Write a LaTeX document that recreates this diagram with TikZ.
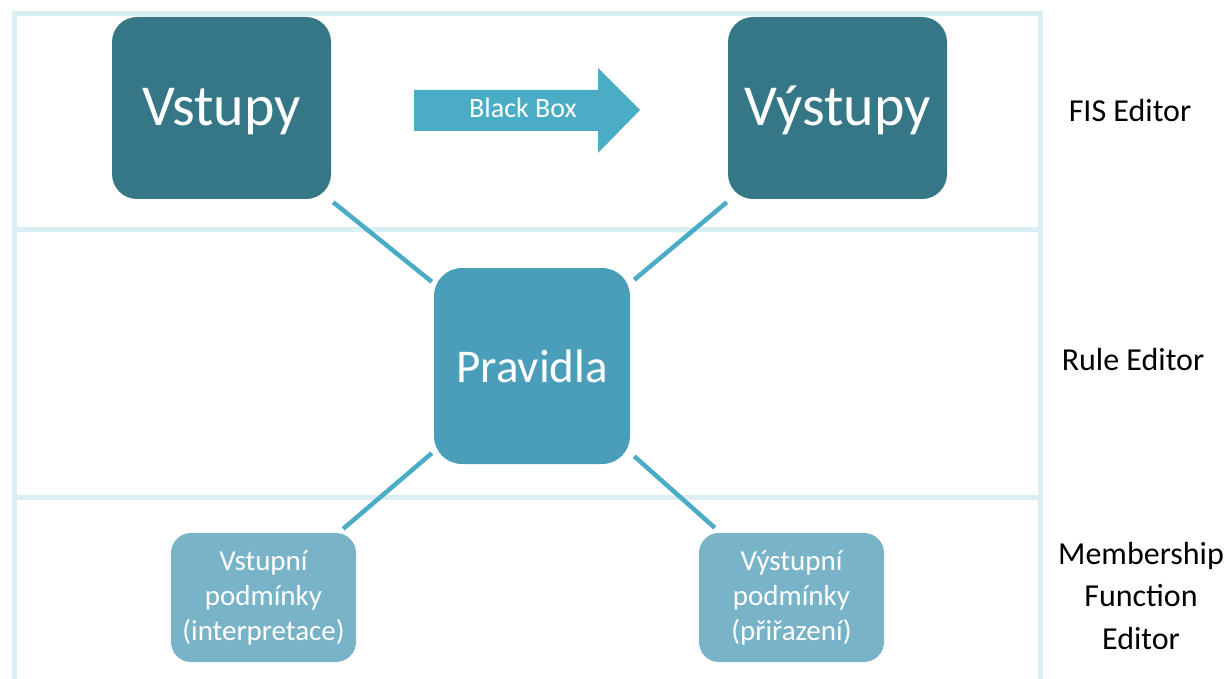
\documentclass[tikz,border=0pt]{standalone}
\usepackage{fontspec}
\setmainfont{Carlito}
\usetikzlibrary{calc}
\definecolor{framecol}{HTML}{DAEEF3}
\definecolor{darkteal}{HTML}{367787}
\definecolor{midteal}{HTML}{4A9EB9}
\definecolor{lightteal}{HTML}{78B3C8}
\definecolor{arrowcol}{HTML}{4BACC6}
\begin{document}
\begin{tikzpicture}[x=1pt,y=-1pt,
  frameline/.style={draw=framecol,line width=5pt},
  bigbox/.style={fill=darkteal,rounded corners=25pt,minimum width=219pt,minimum height=182pt,
    inner sep=0pt,text=white,text height=40pt,text depth=4pt,font=\fontsize{58}{70}\selectfont},
  rulebox/.style={fill=midteal,rounded corners=28pt,minimum width=196pt,minimum height=196pt,
    inner sep=0pt,text=white,font=\fontsize{47}{56}\selectfont},
  smallbox/.style={fill=lightteal,rounded corners=20pt,minimum width=185pt,minimum height=129pt,
    inner sep=0pt,text=white,align=center,font=\fontsize{29}{35}\selectfont},
  link/.style={draw=arrowcol,line width=4.5pt},
  sidelabel/.style={text=black,align=center,font=\fontsize{32}{42.5}\selectfont}
]
\useasboundingbox (0,0) rectangle (1229,679);

% editor frame
\draw[frameline] (14,679) -- (14,14) -- (1040,14) -- (1040,679);
\draw[frameline] (14,230) -- (1040,230);
\draw[frameline] (14,497) -- (1040,497);

% boxes
\node[bigbox] (vin) at (221.5,108) {Vstupy};
\node[bigbox] (vout) at (837.5,108) {Výstupy};
\node[rulebox] (rules) at (532,366) {Pravidla};
\node[smallbox] (cin) at (263.5,597.5) {Vstupní\\podmínky\\(interpretace)};
\node[smallbox] (cout) at (791.5,597.5) {Výstupní\\podmínky\\(přiřazení)};

% black box arrow
\fill[arrowcol] (414,90) -- (598,90) -- (598,68) -- (640,110) -- (598,153) -- (598,131) -- (414,131) -- cycle;
\node[text=white,font=\fontsize{28}{33}\selectfont] (bb) at (523,108) {Black Box};

% connectors
\draw[link] ($(vin.south east)+(2,3)$) -- ($(rules.north west)+(-2,14)$);
\draw[link] ($(rules.north east)+(4,12)$) -- ($(vout.south west)+(-1,3)$);
\draw[link] ($(rules.south west)+(-2,-11)$) -- ($(cin.north east)+(-13,-4)$);
\draw[link] ($(rules.south east)+(4,-8)$) -- ($(cout.north west)+(16,-5)$);

% editor labels
\node[sidelabel] (fis) at (1130,111) {FIS Editor};
\node[sidelabel] (rule) at (1133,360) {Rule Editor};
\node[sidelabel] (mf) at (1141,596) {Membership\\Function\\Editor};
\end{tikzpicture}
\end{document}
